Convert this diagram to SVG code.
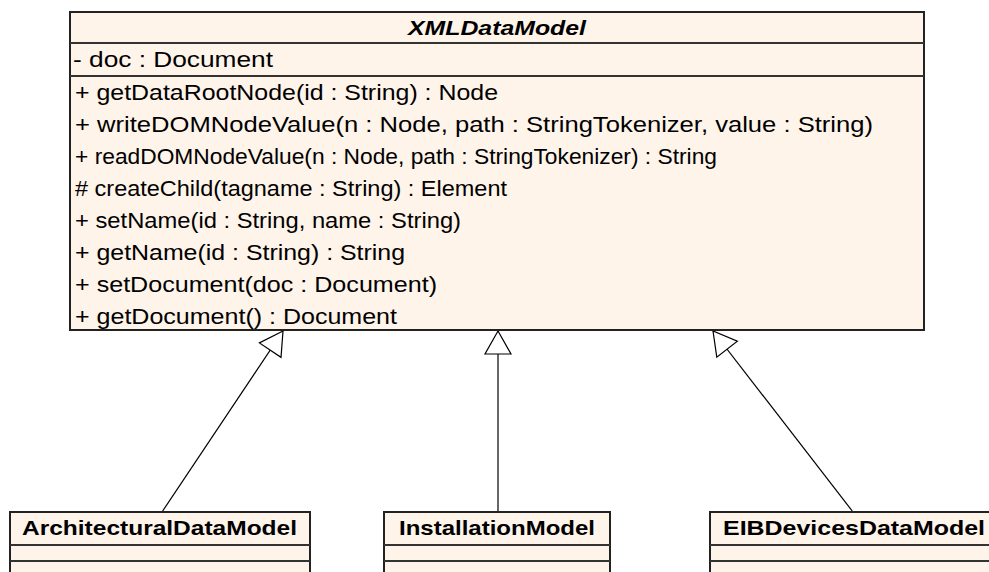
<svg xmlns="http://www.w3.org/2000/svg" width="989" height="572" viewBox="0 0 989 572">
  <style>
    .box { fill: #fff4ea; stroke: #222; stroke-width: 2; }
    .sep { stroke: #333; stroke-width: 2; }
    .member { font-family: "Liberation Sans", Arial, sans-serif; font-size: 22px; fill: #000; }
    .cname { font-family: "Liberation Sans", Arial, sans-serif; font-size: 21px; font-weight: bold; fill: #000; }
    .abstract { font-style: italic; }
    .gen { stroke: #000; stroke-width: 1.2; fill: none; }
  </style>
  <defs>
    <marker id="hollowTriangle" markerUnits="userSpaceOnUse" markerWidth="30" markerHeight="30" viewBox="-25 -15 27 30" refX="0" refY="0" orient="auto">
      <path d="M0,0 L-23,-13 L-23,13 Z" fill="#fff" stroke="#000" stroke-width="1.2"/>
    </marker>
  </defs>
  <rect width="989" height="572" fill="#fff"/>

  <!-- generalization connectors -->
  <g id="connectors">
    <line class="gen" x1="162" y1="512" x2="283" y2="331" marker-end="url(#hollowTriangle)"/>
    <line class="gen" x1="498" y1="512" x2="498" y2="331" stroke-width="2" marker-end="url(#hollowTriangle)"/>
    <line class="gen" x1="853" y1="512" x2="713" y2="331" marker-end="url(#hollowTriangle)"/>
  </g>

  <!-- abstract base class -->
  <g id="XMLDataModel">
    <rect class="box" x="70" y="12" width="854" height="318"/>
    <line class="sep" x1="70" y1="43" x2="924" y2="43"/>
    <line class="sep" x1="70" y1="76" x2="924" y2="76"/>
    <text class="cname abstract" x="497" y="35" text-anchor="middle" font-size="23" textLength="178" lengthAdjust="spacingAndGlyphs">XMLDataModel</text>
    <text class="member" x="73" y="67" textLength="200" lengthAdjust="spacingAndGlyphs">- doc : Document</text>
    <text class="member" x="75" y="100" textLength="423" lengthAdjust="spacingAndGlyphs">+ getDataRootNode(id : String) : Node</text>
    <text class="member" x="75" y="132" textLength="798" lengthAdjust="spacingAndGlyphs">+ writeDOMNodeValue(n : Node, path : StringTokenizer, value : String)</text>
    <text class="member" x="75" y="164" textLength="642" lengthAdjust="spacingAndGlyphs">+ readDOMNodeValue(n : Node, path : StringTokenizer) : String</text>
    <text class="member" x="75" y="196" textLength="432" lengthAdjust="spacingAndGlyphs"># createChild(tagname : String) : Element</text>
    <text class="member" x="75" y="228" textLength="386" lengthAdjust="spacingAndGlyphs">+ setName(id : String, name : String)</text>
    <text class="member" x="75" y="260" textLength="330" lengthAdjust="spacingAndGlyphs">+ getName(id : String) : String</text>
    <text class="member" x="75" y="292" textLength="362" lengthAdjust="spacingAndGlyphs">+ setDocument(doc : Document)</text>
    <text class="member" x="75" y="324" textLength="322" lengthAdjust="spacingAndGlyphs">+ getDocument() : Document</text>
  </g>

  <!-- subclasses -->
  <g id="ArchitecturalDataModel">
    <rect class="box" x="10" y="512" width="300" height="80"/>
    <line class="sep" x1="10" y1="545" x2="310" y2="545"/>
    <line class="sep" x1="10" y1="561" x2="310" y2="561"/>
    <text class="cname" x="22" y="535" textLength="275" lengthAdjust="spacingAndGlyphs">ArchitecturalDataModel</text>
  </g>
  <g id="InstallationModel">
    <rect class="box" x="384" y="512" width="226" height="80"/>
    <line class="sep" x1="384" y1="545" x2="610" y2="545"/>
    <line class="sep" x1="384" y1="561" x2="610" y2="561"/>
    <text class="cname" x="399" y="535" textLength="196" lengthAdjust="spacingAndGlyphs">InstallationModel</text>
  </g>
  <g id="EIBDevicesDataModel">
    <rect class="box" x="710" y="512" width="290" height="80"/>
    <line class="sep" x1="710" y1="545" x2="1000" y2="545"/>
    <line class="sep" x1="710" y1="561" x2="1000" y2="561"/>
    <text class="cname" x="723" y="535" textLength="262" lengthAdjust="spacingAndGlyphs">EIBDevicesDataModel</text>
  </g>
</svg>
